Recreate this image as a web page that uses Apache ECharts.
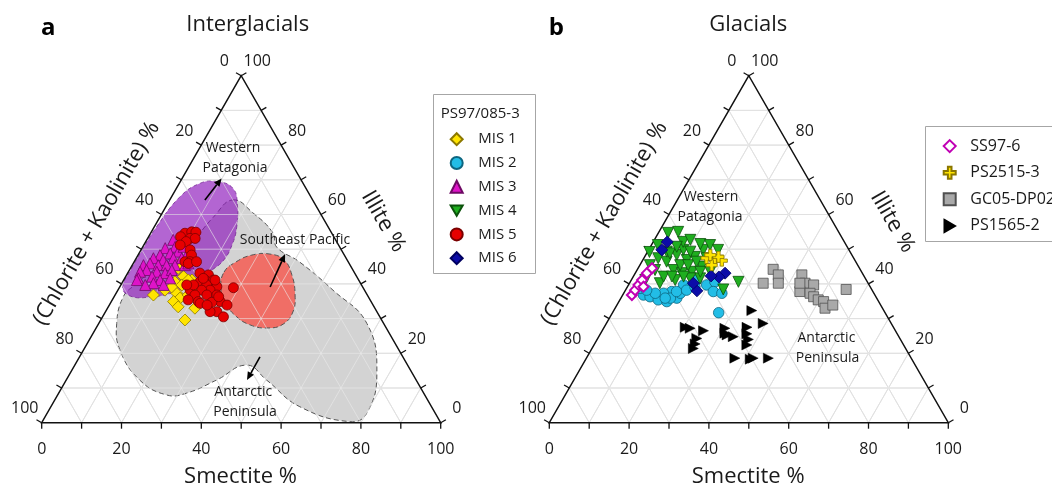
<!DOCTYPE html>
<html><head><meta charset="utf-8">
<script src="https://cdn.jsdelivr.net/npm/echarts@6/dist/echarts.min.js"></script>
<style>html,body{margin:0;padding:0;background:#fff}#c{width:1052px;height:487px}</style>
</head><body><div id="c"></div>
<script>
// All points are ternary compositions [Smectite %, Illite %]; (Chlorite + Kaolinite) % = 100 - S - I
const tickValues = [0, 20, 40, 60, 80, 100];
const minorTicks = [0, 10, 20, 30, 40, 50, 60, 70, 80, 90, 100];

// ---- Panel a: Interglacials (PS97/085-3) ----
const mis1 = [[11.7,45.9],[12.0,44.5],[14.5,42.1],[17.1,41.1],[13.1,40.6],[15.3,39.7],[18.9,38.2],[11.8,38.2],[9.6,36.8],[15.2,37.3],[16.7,35.9],[18.3,36.8],[15.6,34.9],[17.5,33.4],[21.9,33.0],[21.1,29.6],[13.0,39.1],[16.2,41.1],[18.4,39.2],[20.5,35.9]];
const mis3 = [[6.6,52.7],[5.8,50.3],[8.1,50.7],[9.6,49.3],[7.8,48.8],[5.5,48.3],[4.3,47.4],[7.0,46.9],[9.3,47.4],[11.4,47.4],[12.2,48.3],[2.8,45.4],[4.2,45.9],[6.5,45.4],[8.6,45.4],[10.7,45.4],[13.2,45.4],[4.3,44.0],[7.1,43.5],[9.4,43.1],[10.6,44.0],[2.9,43.5],[6.6,42.1],[9.1,41.1],[11.4,41.6],[3.4,41.6],[7.9,40.2],[10.7,39.7],[6.1,39.7],[3.3,41.1],[10.2,50.7],[13.8,45.9],[24.5,37.8]];
const mis5 = [[8.6,54.6],[10.1,55.0],[11.2,54.9],[8.0,53.6],[10.6,53.1],[11.9,53.1],[10.1,52.2],[9.1,51.2],[12.3,49.8],[13.4,48.3],[12.7,46.4],[14.0,46.4],[18.1,43.1],[20.5,42.6],[20.4,41.1],[22.5,41.1],[24.3,39.2],[19.4,40.6],[21.5,39.7],[23.1,38.2],[28.6,38.9],[21.0,38.2],[18.1,38.2],[20.0,36.8],[23.0,36.8],[25.5,36.8],[27.3,34.9],[29.5,33.9],[25.3,34.7],[27.9,32.0],[26.2,32.0],[30.3,30.5],[21.8,34.9],[18.2,39.7],[16.5,39.7],[13.8,45.9],[15.6,46.4],[19.7,41.6],[22.9,41.1],[26.2,36.3],[19.0,35.4],[22.5,34.4],[24.5,33.9]];

// source regions (outlines, ternary)
const regionPeninsula = [[15.8,64.2],[22.8,60.4],[30.6,54.7],[33.6,50.6],[41.5,46.3],[53.9,38.2],[67.2,28.6],[76.9,14.2],[80.1,2.7],[77.1,0.3],[62.4,4.6],[50.2,12.3],[43.1,16.6],[37.7,12.3],[32.0,8.5],[27.3,8.0],[18.4,12.3],[9.1,21.0],[4.5,28.6],[2.3,36.3],[3.5,39.7],[6.9,45.4],[11.1,50.6],[13.4,59.2]];
const regionSEPacific = [[24.0,43.4],[25.5,46.3],[28.5,48.3],[32.9,48.6],[37.3,46.9],[41.4,42.6],[45.1,36.8],[47.0,31.9],[46.3,28.4],[43.1,27.3],[38.1,28.2],[32.9,31.0],[28.5,34.8],[25.5,38.8]];
const regionPatagonia = [[9.1,69.5],[14.1,67.6],[17.7,62.7],[20.8,56.1],[22.1,51.2],[22.2,46.9],[20.7,44.0],[18.2,40.5],[14.6,37.7],[9.0,36.2],[3.9,36.5],[0.8,39.0],[0.3,44.0],[0.3,50.0],[0.5,56.0],[2.1,65.1],[5.2,69.0]];
const arrowsA = [[[8.8,64.2],[9.9,70.4]], [[37.7,39.1],[36.7,48.6]], [[45.2,19.0],[45.3,12.3]]];

// ---- Panel b: Glacials ----
const mis2 = [[26.6,31.7],[5.2,36.8],[7.1,36.3],[9.6,35.4],[12.0,34.9],[14.0,35.9],[14.2,37.3],[11.8,37.8],[15.7,39.2],[13.8,39.7],[16.4,41.1],[19.6,39.7],[21.2,40.6],[22.2,37.8],[24.6,37.3],[10.0,37.3],[7.9,37.3],[3.4,38.7],[12.4,35.9],[11.1,35.9],[13.0,37.8],[15.3,38.2],[16.9,39.2],[5.3,38.2]];
const mis4 = [[27.1,40.6],[24.4,38.4],[17.0,41.6],[7.6,40.2],[4.5,44.0],[6.2,46.4],[7.8,48.3],[11.0,46.9],[12.6,47.8],[13.7,49.8],[8.7,49.8],[4.8,49.3],[3.6,47.4],[9.1,44.0],[11.7,43.1],[14.0,43.5],[15.7,45.0],[15.7,47.4],[7.6,42.1],[2.5,45.4],[3.5,41.1],[14.5,41.6],[11.0,41.1],[2.4,54.7],[4.8,55.0],[7.5,52.1],[9.0,52.7],[12.1,51.5],[14.7,51.2],[1.6,51.2],[0.5,49.2],[17.4,49.8],[17.6,46.9],[5.8,48.8],[10.1,45.4],[12.1,45.4],[13.7,46.4],[9.7,42.1],[12.6,42.1],[16.1,43.5],[6.6,50.7],[10.7,49.3],[18.6,43.5]];
const mis6 = [[22.5,43.1],[21.5,42.0],[18.0,38.0],[16.0,40.2],[3.5,52.1],[3.3,49.8],[19.4,42.3]];
const ss976 = [[2.3,36.8],[2.4,38.2],[2.5,39.7],[2.7,41.1],[2.9,43.1],[3.5,44.5],[4.0,39.2]];
const ps2515 = [[15.7,47.4],[18.1,46.9],[19.9,46.7],[18.0,45.4],[18.5,47.8],[16.2,48.3]];
const gc05 = [[33.5,40.2],[34.0,44.2],[36.1,42.6],[37.3,40.2],[42.0,42.6],[44.0,40.2],[46.4,39.7],[43.9,37.8],[46.7,37.3],[48.1,36.3],[49.7,35.4],[51.3,34.9],[52.6,33.0],[54.1,33.9],[55.2,38.4],[42.7,40.2]];
const ps1565 = [[34.6,32.3],[39.3,28.6],[20.3,27.5],[21.7,27.2],[25.4,26.5],[30.4,27.2],[31.9,25.3],[33.7,24.8],[35.8,27.5],[36.7,25.6],[37.9,24.0],[38.3,22.4],[24.8,24.3],[25.2,22.7],[25.4,21.4],[37.2,18.6],[41.2,18.3],[41.8,18.6],[45.6,18.6],[31.1,25.8]];

const legendA = ['MIS 1','MIS 2','MIS 3','MIS 4','MIS 5','MIS 6'];
const legendB = ['SS97-6','PS2515-3','GC05-DP02','PS1565-2'];

// ---------------------------------------------------------------
const FONT = '"Open Sans", "Noto Sans", sans-serif';
const H = 0.8660254;
const tp = p => [p[0] + p[1] / 2, p[1] * H];

const regionsA = [regionPeninsula, regionSEPacific, regionPatagonia];
const regionStyles = [
  {fill:'#d3d3d3', stroke:'#555', lineWidth:1, lineDash:[5,3]},
  {fill:'rgba(246,88,78,0.82)', stroke:'#555', lineWidth:1, lineDash:[5,3]},
  {fill:'rgba(140,22,186,0.66)', stroke:'rgba(110,30,140,0.7)', lineWidth:1, lineDash:[4,3]}
];

function gridLines(api, color) {
  const P = (s, i) => api.coord(tp([s, i]));
  const ch = [];
  for (let k = 10; k < 100; k += 10) {
    [[P(k,0), P(k,100-k)], [P(0,k), P(100-k,k)], [P(0,100-k), P(100-k,0)]].forEach(s => {
      ch.push({type:'line', shape:{x1:s[0][0], y1:s[0][1], x2:s[1][0], y2:s[1][1]}, style:{stroke:color, lineWidth:1}});
    });
  }
  return ch;
}
function gridBelow(params, api) {
  return {type:'group', children: gridLines(api, '#d2d2d2')};
}
function txt(x, y, t, size) {
  return {type:'text', x:x, y:y, style:{text:t, fontSize:size, fontFamily:FONT, fill:'#1a1a1a',
    textAlign:'center', textVerticalAlign:'middle', align:'center', verticalAlign:'middle'}};
}
function frame(params, api) {
  const P = (s, i) => api.coord(tp([s, i]));
  const ch = gridLines(api, 'rgba(235,235,235,0.6)');
  const A = P(0,100), L = P(0,0), R = P(100,0);
  ch.push({type:'polygon', shape:{points:[A, L, R]}, style:{fill:'none', stroke:'#111', lineWidth:1.5}});
  minorTicks.forEach(k => {
    const b = P(k, 0), l = P(0, 100 - k), r = P(100 - k, k);
    ch.push({type:'line', shape:{x1:b[0], y1:b[1], x2:b[0], y2:b[1] + 6}, style:{stroke:'#111', lineWidth:1.3}});
    ch.push({type:'line', shape:{x1:l[0], y1:l[1], x2:l[0] - 5.2, y2:l[1] - 3}, style:{stroke:'#111', lineWidth:1.3}});
    ch.push({type:'line', shape:{x1:r[0], y1:r[1], x2:r[0] + 5.2, y2:r[1] - 3}, style:{stroke:'#111', lineWidth:1.3}});
  });
  tickValues.forEach(v => {
    const b = P(v, 0), l = P(0, 100 - v), r = P(100 - v, v);
    ch.push(txt(b[0], b[1] + 27, String(v), 16));
    ch.push(txt(l[0] - 17, l[1] - 14, String(v), 16));
    ch.push(txt(r[0] + 16, r[1] - 14, String(v), 16));
  });
  return {type:'group', children: ch};
}
function regionItem(params, api) {
  const pts = regionsA[params.dataIndex].map(p => api.coord(tp(p)));
  return {type:'polygon', shape:{points:pts, smooth:0.45}, style:regionStyles[params.dataIndex]};
}
function arrowItem(params, api) {
  const a = arrowsA[params.dataIndex];
  const p1 = api.coord(tp(a[0])), p2 = api.coord(tp(a[1]));
  const dx = p2[0] - p1[0], dy = p2[1] - p1[1], Ln = Math.hypot(dx, dy), ux = dx / Ln, uy = dy / Ln;
  const h = 8, w = 3.5, b = [p2[0] - ux * h, p2[1] - uy * h];
  return {type:'group', children:[
    {type:'line', shape:{x1:p1[0], y1:p1[1], x2:b[0], y2:b[1]}, style:{stroke:'#000', lineWidth:1.6}},
    {type:'polygon', shape:{points:[p2, [b[0] - uy * w, b[1] + ux * w], [b[0] + uy * w, b[1] - ux * w]]}, style:{fill:'#000'}}
  ]};
}

const plusPath = 'path://M3.5,0H6.5V3.5H10V6.5H6.5V10H3.5V6.5H0V3.5H3.5Z';
const downTri = 'path://M0,0L10,0L5,8.7Z';
const rightTri = 'path://M0,0L8.7,5L0,10Z';
function sc(name, data, gi, sym, size, color, border, bw) {
  return {type:'scatter', name:name, xAxisIndex:gi, yAxisIndex:gi, data:data.map(tp), symbol:sym,
    symbolSize:size, z:5,
    itemStyle:{color:color, borderColor:border, borderWidth:bw, opacity:1},
    emphasis:{disabled:true}};
}

const chart = echarts.init(document.getElementById('c'), null, {renderer:'canvas'});
const gridCfg = [{left:41.7, top:75.7, width:399, height:347}, {left:549.3, top:75.7, width:399, height:347}];
const option = {
  animation:false,
  backgroundColor:'#fff',
  grid: gridCfg.map(g => Object.assign({containLabel:false, show:false}, g)),
  xAxis: [0,1].map(i => ({gridIndex:i, type:'value', min:0, max:100, show:false})),
  yAxis: [0,1].map(i => ({gridIndex:i, type:'value', min:0, max:100*H, show:false})),
  legend: [
    {data:legendA, orient:'vertical', left:449.7, top:131.7, padding:0, itemWidth:12, itemHeight:12, itemGap:8.8,
      selectedMode:false, formatter:'{t|{name}}',
      textStyle:{fontSize:15, fontFamily:FONT, color:'#1a1a1a',
        rich:{t:{fontSize:15, fontFamily:FONT, color:'#1a1a1a', lineHeight:18, padding:[0,0,0,10.6]}}}},
    {data:legendB, orient:'vertical', left:942.7, top:138.1, padding:0, itemWidth:12, itemHeight:12, itemGap:10.6,
      selectedMode:false, formatter:'{t|{name}}',
      textStyle:{fontSize:16, fontFamily:FONT, color:'#1a1a1a',
        rich:{t:{fontSize:16, fontFamily:FONT, color:'#1a1a1a', lineHeight:18, padding:[0,0,0,9.6]}}}}
  ],
  series: [
    {type:'custom', name:'gridA', xAxisIndex:0, yAxisIndex:0, data:[0], renderItem:gridBelow, z:1, silent:true},
    {type:'custom', name:'gridB', xAxisIndex:1, yAxisIndex:1, data:[0], renderItem:gridBelow, z:1, silent:true},
    {type:'custom', name:'regions', xAxisIndex:0, yAxisIndex:0, data:regionsA.map((r, i) => i), renderItem:regionItem, z:2, silent:true},
    {type:'custom', name:'frameA', xAxisIndex:0, yAxisIndex:0, data:[0], renderItem:frame, z:3, silent:true},
    {type:'custom', name:'frameB', xAxisIndex:1, yAxisIndex:1, data:[0], renderItem:frame, z:3, silent:true},
    sc('MIS 1', mis1, 0, 'diamond', 12, '#ffe400', '#8c7800', 0.8),
    sc('MIS 2', mis2, 1, 'circle', 10.5, '#22bde6', '#0d6680', 0.8),
    sc('MIS 3', mis3, 0, 'triangle', 11, '#de14c8', '#6e0a64', 0.8),
    sc('MIS 4', mis4, 1, downTri, 11, '#1fae1f', '#0b520b', 0.8),
    sc('MIS 5', mis5, 0, 'circle', 10, '#e60000', '#7a0000', 0.8),
    sc('MIS 6', mis6, 1, 'diamond', 12, '#0c0ca8', '#000060', 0.8),
    sc('SS97-6', ss976, 1, 'diamond', 10, '#ffffff', '#c000b4', 2),
    sc('PS2515-3', ps2515, 1, plusPath, 11, '#ffe400', '#8a7600', 0.8),
    sc('GC05-DP02', gc05, 1, 'rect', 10, '#a9a9a9', '#505050', 0.8),
    sc('PS1565-2', ps1565, 1, rightTri, 10, '#000000', '#000000', 0.5),
    {type:'custom', name:'arrows', xAxisIndex:0, yAxisIndex:0, data:arrowsA.map((a, i) => i), renderItem:arrowItem, z:6, silent:true}
  ],
  graphic: [
    {type:'text', x:48.3, y:28.3, style:{text:'a', font:'bold 24px ' + FONT, fill:'#000', textAlign:'center', textVerticalAlign:'middle'}},
    {type:'text', x:556.3, y:28.3, style:{text:'b', font:'bold 24px ' + FONT, fill:'#000', textAlign:'center', textVerticalAlign:'middle'}},
    {type:'text', x:247.7, y:25, style:{text:'Interglacials', font:'22px ' + FONT, fill:'#1a1a1a', textAlign:'center', textVerticalAlign:'middle'}},
    {type:'text', x:748.2, y:25, style:{text:'Glacials', font:'22px ' + FONT, fill:'#1a1a1a', textAlign:'center', textVerticalAlign:'middle'}},
    {type:'text', x:240.5, y:476.7, style:{text:'Smectite %', font:'22px ' + FONT, fill:'#1a1a1a', textAlign:'center', textVerticalAlign:'middle'}},
    {type:'text', x:748.2, y:476.7, style:{text:'Smectite %', font:'22px ' + FONT, fill:'#1a1a1a', textAlign:'center', textVerticalAlign:'middle'}},
    {type:'text', x:96.7, y:223.3, rotation:Math.PI / 3, style:{text:'(Chlorite + Kaolinite) %', font:'22px ' + FONT, fill:'#1a1a1a', textAlign:'center', textVerticalAlign:'middle'}},
    {type:'text', x:604.3, y:223.3, rotation:Math.PI / 3, style:{text:'(Chlorite + Kaolinite) %', font:'22px ' + FONT, fill:'#1a1a1a', textAlign:'center', textVerticalAlign:'middle'}},
    {type:'text', x:383.3, y:221.5, rotation:-Math.PI / 3, style:{text:'Illite %', font:'22px ' + FONT, fill:'#1a1a1a', textAlign:'center', textVerticalAlign:'middle'}},
    {type:'text', x:892.5, y:222, rotation:-Math.PI / 3, style:{text:'Illite %', font:'22px ' + FONT, fill:'#1a1a1a', textAlign:'center', textVerticalAlign:'middle'}},
    {type:'text', x:233, y:148.3, style:{text:'Western', font:'14px ' + FONT, fill:'#1a1a1a', textAlign:'center', textVerticalAlign:'middle'}, z:100},
    {type:'text', x:235, y:168.3, style:{text:'Patagonia', font:'14px ' + FONT, fill:'#1a1a1a', textAlign:'center', textVerticalAlign:'middle'}, z:100},
    {type:'text', x:295, y:240, style:{text:'Southeast Pacific', font:'14px ' + FONT, fill:'#1a1a1a', textAlign:'center', textVerticalAlign:'middle'}, z:100},
    {type:'text', x:243.3, y:391.7, style:{text:'Antarctic', font:'14px ' + FONT, fill:'#1a1a1a', textAlign:'center', textVerticalAlign:'middle'}, z:100},
    {type:'text', x:245, y:411.7, style:{text:'Peninsula', font:'14px ' + FONT, fill:'#1a1a1a', textAlign:'center', textVerticalAlign:'middle'}, z:100},
    {type:'text', x:711, y:196.7, style:{text:'Western', font:'14px ' + FONT, fill:'#1a1a1a', textAlign:'center', textVerticalAlign:'middle'}, z:100},
    {type:'text', x:710, y:217.3, style:{text:'Patagonia', font:'14px ' + FONT, fill:'#1a1a1a', textAlign:'center', textVerticalAlign:'middle'}, z:100},
    {type:'text', x:826.4, y:337.7, style:{text:'Antarctic', font:'14px ' + FONT, fill:'#1a1a1a', textAlign:'center', textVerticalAlign:'middle'}, z:100},
    {type:'text', x:827.5, y:358.3, style:{text:'Peninsula', font:'14px ' + FONT, fill:'#1a1a1a', textAlign:'center', textVerticalAlign:'middle'}, z:100},
    {type:'rect', shape:{x:433.5, y:94.5, width:102, height:179}, style:{fill:'none', stroke:'#a6a6a6', lineWidth:1}},
    {type:'text', x:440.7, y:113.3, style:{text:'PS97/085-3', font:'15px ' + FONT, fill:'#1a1a1a', textAlign:'left', textVerticalAlign:'middle'}},
    {type:'rect', shape:{x:925.5, y:126.5, width:140, height:115}, style:{fill:'none', stroke:'#a6a6a6', lineWidth:1}}
  ]
};
chart.setOption(option);
</script>
</body></html>
